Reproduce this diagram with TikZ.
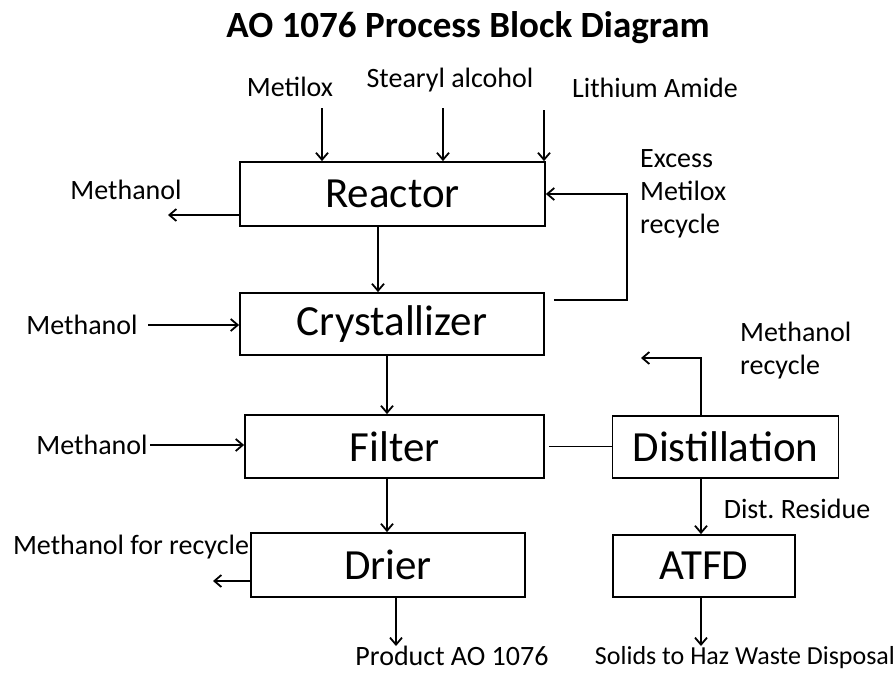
\documentclass[tikz,border=0pt]{standalone}
\usepackage{fontspec}
\setmainfont{Carlito}
\usepackage{tikz}
\usetikzlibrary{arrows.meta}

\begin{document}
\begin{tikzpicture}[
    x=1pt, y=-1pt,
    unitbox/.style={draw, line width=1.8pt, inner sep=0pt, font=\fontsize{43}{47}\selectfont},
    lab/.style={inner sep=0pt, font=\fontsize{28}{33}\selectfont},
    flow/.style={line width=1.8pt},
    arr/.style={flow, -{Straight Barb[length=7pt, width=12pt]}}
]
\useasboundingbox (0,0) rectangle (894,673);
\node[inner sep=0pt, font=\fontsize{37}{42}\selectfont\bfseries] (title) at (468,28) {AO 1076 Process Block Diagram};
% process units
\node[unitbox, minimum width=305pt, minimum height=64pt] (reac) at (392.5,194) {Reactor};
\node[unitbox, minimum width=304pt, minimum height=62pt] (crys) at (392,324) {Crystallizer};
\node[unitbox, minimum width=299pt, minimum height=63pt] (filt) at (394.5,446.5) {Filter};
\node[unitbox, minimum width=226pt, minimum height=62pt] (dist) at (725.5,447) {Distillation};
\node[unitbox, minimum width=274pt, minimum height=64pt] (drie) at (388,565) {Drier};
\node[unitbox, minimum width=182pt, minimum height=62pt] (atfd) at (704,566) {ATFD};
% stream labels
\node[lab] (metilox) at (290,87) {Metilox};
\node[lab] (stearyl) at (450,80) {Stearyl alcohol};
\node[lab] (lithium) at (655,88) {Lithium Amide};
\node[lab, anchor=west, align=left] (excess) at (640,194) {Excess\\Metilox\\recycle};
\node[lab] (methout) at (126,190) {Methanol};
\node[lab] (methcrys) at (82,325) {Methanol};
\node[lab] (methfilt) at (92,445) {Methanol};
\node[lab, anchor=west, align=left] (methrec) at (740,351) {Methanol\\recycle};
\node[lab] (residue) at (797,509) {Dist.\ Residue};
\node[lab] (methdrie) at (131,547) {Methanol for recycle};
\node[lab] (product) at (452,656) {Product AO 1076};
\node[lab, font=\fontsize{26}{30}\selectfont] (solids) at (745,658) {Solids to Haz Waste Disposal};
% free ends
\coordinate (inmet) at (322,108);
\coordinate (inste) at (443,108);
\coordinate (inlit) at (544,110);
\coordinate (recy) at (627,300);
\coordinate (outm1) at (168,215);
\coordinate (inm2) at (148,325);
\coordinate (inm3) at (150,445);
\coordinate (recv) at (701,358);
\coordinate (rech) at (641,358);
\coordinate (outm4) at (213,581);
\coordinate (prod) at (396,646);
\coordinate (haz) at (701,646);
% streams
\draw[arr] (inmet) -- (inmet |- reac.north);
\draw[arr] (inste) -- (inste |- reac.north);
\draw[arr] (inlit) -- (inlit |- reac.north);
\draw[arr] (reac.west |- outm1) -- (outm1);
\draw[arr] ([xshift=9pt]crys.east |- recy) -- (recy) |- (reac.east);
\draw[arr] (378,0 |- reac.south) -- (378,0 |- crys.north);
\draw[arr] (inm2) -- (crys.west |- inm2);
\draw[arr] (387,0 |- crys.south) -- (387,0 |- filt.north);
\draw[arr] (inm3) -- (filt.west |- inm3);
\draw[flow] ([xshift=4pt]filt.east) -- (dist.west |- filt.east);
\draw[arr] (dist.north -| recv) -- (recv) -- (rech);
\draw[arr] (dist.south -| recv) -- (atfd.north -| recv);
\draw[arr] (387,0 |- filt.south) -- (387,0 |- drie.north);
\draw[arr] (drie.west |- outm4) -- (outm4);
\draw[arr] (drie.south -| prod) -- (prod);
\draw[arr] (atfd.south -| haz) -- (haz);
\end{tikzpicture}
\end{document}
